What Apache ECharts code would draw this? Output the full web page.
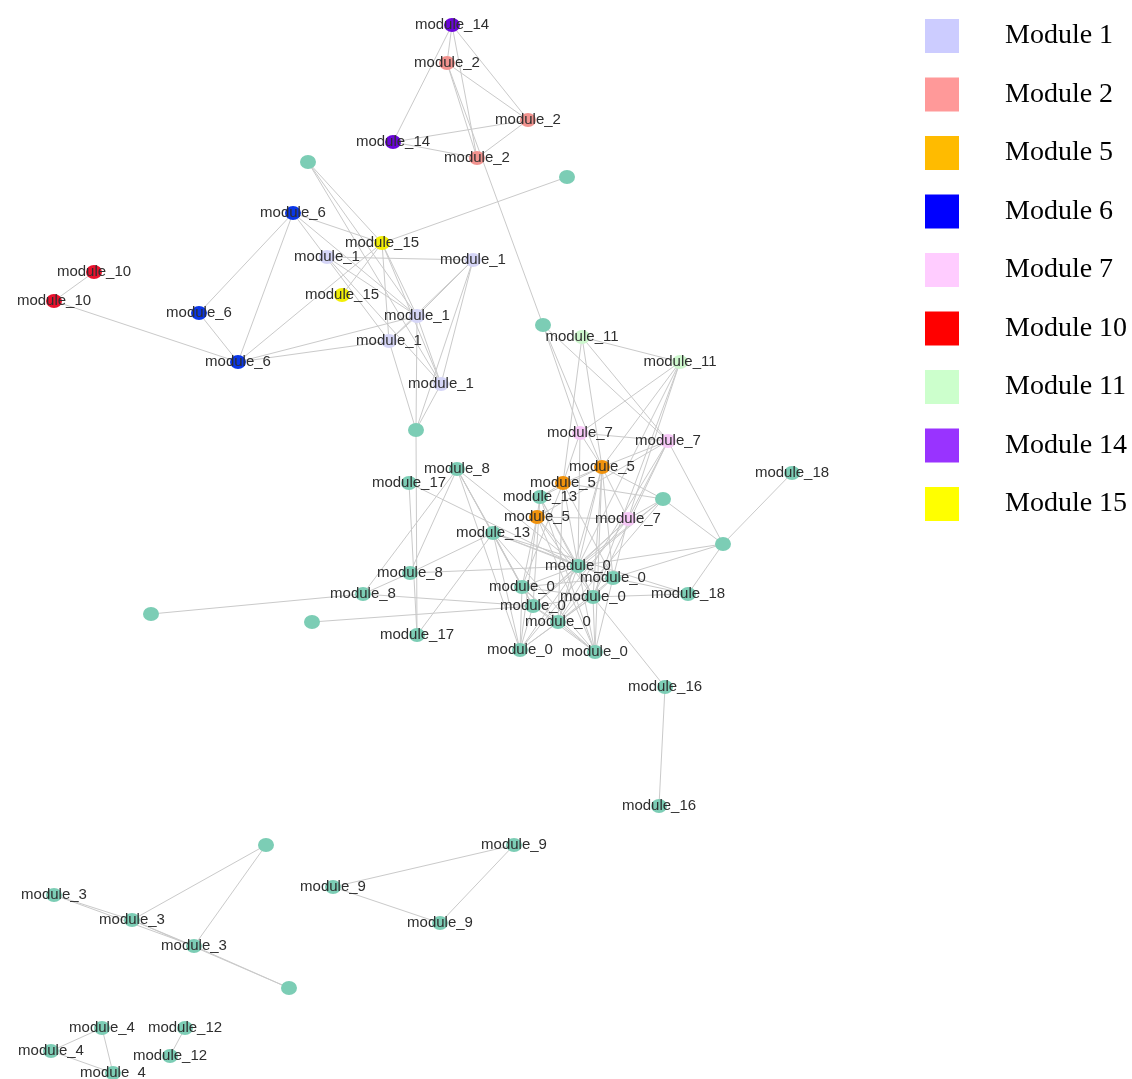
<!DOCTYPE html>
<html>
<head>
<meta charset="utf-8">
<script src="https://cdn.jsdelivr.net/npm/echarts@6/dist/echarts.min.js"></script>
<style>
html,body{margin:0;padding:0;background:#fff;}
#chart{width:1132px;height:1079px;}
</style>
</head>
<body>
<div id="chart"></div>
<script>
// module ids used as graph categories (0 = unclassified teal)
const moduleIds = [0, 1, 2, 5, 6, 7, 10, 11, 14, 15];
const moduleNames = ['Module 0', 'Module 1', 'Module 2', 'Module 5', 'Module 6', 'Module 7', 'Module 10', 'Module 11', 'Module 14', 'Module 15'];
const nodeColors = ['#7ccdb5', '#d5d5f7', '#f2938f', '#f0920c', '#0a36e6', '#f7c8f7', '#e8112d', '#cdf7cd', '#6a05d9', '#f2ee05'];
const legendNames = ['Module 1', 'Module 2', 'Module 5', 'Module 6', 'Module 7', 'Module 10', 'Module 11', 'Module 14', 'Module 15'];
const legendColors = ['#ccccff', '#ff9999', '#ffbb00', '#0000ff', '#ffccff', '#ff0000', '#ccffcc', '#9933ff', '#ffff00'];

// nodes: label text, module id, layout position
const nodeLabels = ['module_14','module_2','module_2','module_14','module_2','','','module_6','module_15','module_1',
  'module_1','module_10','module_10','module_15','module_6','module_1','module_1','module_6','module_1','',
  '','module_11','module_11','module_7','module_7','module_5','module_8','module_17','module_18','module_5',
  'module_13','','module_5','module_7','module_13','','module_0','module_0','module_0','module_0',
  'module_0','module_0','module_0','module_0','module_18','module_8','module_8','','','module_17',
  'module_16','module_16','','module_3','module_3','module_3','','module_9','module_9','module_9',
  'module_4','module_12','module_4','module_12','module_4'];
const nodeModules = [14,2,2,14,2,0,0,6,15,1,
  1,10,10,15,6,1,1,6,1,0,
  0,11,11,7,7,5,0,0,0,5,
  0,0,5,7,0,0,0,0,0,0,
  0,0,0,0,0,0,0,0,0,0,
  0,0,0,0,0,0,0,0,0,0,
  0,0,0,0,0];
const nodeX = [452,447,528,393,477,308,567,293,382,327,
  473,94,54,342,199,417,389,238,441,416,
  543,582,680,580,668,602,457,409,792,563,
  540,663,537,628,493,723,578,613,522,593,
  533,558,520,595,688,410,363,151,312,417,
  665,659,266,54,132,194,289,514,333,440,
  102,185,51,170,113];
const nodeY = [25,63,120,142,158,162,177,213,243,257,
  260,272,301,295,313,316,341,362,384,430,
  325,337,362,433,441,467,469,483,473,483,
  497,499,517,519,533,544,566,578,587,597,
  606,622,650,652,594,573,594,614,622,635,
  687,806,845,895,920,946,988,845,887,923,
  1028,1028,1051,1056,1073];

const edgeList = [
  [0,1],[0,3],[0,4],[0,2],[1,2],[1,4],[1,20],[2,3],[2,4],[3,4],[6,8],
  [11,12],[12,17],[14,7],[14,17],[7,17],[7,8],[7,15],[7,16],[5,8],[5,15],[5,18],
  [9,10],[9,15],[9,18],[8,13],[8,17],[17,15],[17,16],[8,15],[8,18],[8,16],
  [10,15],[10,18],[10,19],[10,16],[15,18],[15,19],[16,19],[18,19],[15,16],
  [19,49],[27,49],
  [20,24],[20,25],[20,23],
  [21,22],[21,25],[21,24],[21,29],
  [22,23],[22,25],[22,33],[22,36],[22,39],
  [23,24],[23,25],[23,29],[23,36],
  [24,25],[24,35],[24,33],[24,39],[24,41],[24,32],
  [25,29],[25,31],[25,33],[25,36],[25,37],[25,39],[25,41],[25,43],[25,30],
  [26,34],[26,38],[26,40],[26,42],[26,45],[26,46],[26,36],
  [27,36],
  [29,30],[29,36],[29,37],[29,38],[29,31],[29,41],
  [30,32],[30,36],[30,40],[30,39],[30,43],
  [31,33],[31,35],[31,36],[31,41],[31,40],
  [32,36],[32,38],[32,39],[32,42],[32,43],[32,33],
  [33,36],[33,37],[33,40],[33,42],
  [34,36],[34,37],[34,38],[34,40],[34,42],[34,43],[34,44],[34,45],[34,49],
  [35,28],[35,36],[35,37],[35,44],
  [36,37],[36,38],[36,39],[36,40],[36,41],[36,42],[36,43],
  [37,38],[37,39],[37,41],[37,43],[37,44],
  [38,39],[38,40],[38,41],[38,42],[38,43],
  [39,40],[39,41],[39,42],[39,43],[39,44],[39,50],
  [40,41],[40,42],[40,43],[41,42],[41,43],
  [45,36],[45,46],[46,40],[47,46],[48,40],
  [50,51],
  [52,54],[52,55],[53,54],[54,55],[53,55],[55,56],[54,56],
  [57,58],[57,59],[58,59],
  [60,62],[60,64],[62,64],[61,63]
];

const categories = moduleNames.map((n, i) => ({ name: n, itemStyle: { color: nodeColors[i] } }));
const nodes = nodeLabels.map((lab, i) => ({
  id: 'n' + i,
  name: lab || ('node' + i),
  value: [nodeX[i], nodeY[i]],
  category: moduleIds.indexOf(nodeModules[i]),
  label: { show: lab !== '' }
}));
const links = edgeList.map(e => ({ source: 'n' + e[0], target: 'n' + e[1] }));

const chart = echarts.init(document.getElementById('chart'));
chart.setOption({
  animation: false,
  backgroundColor: '#ffffff',
  grid: { left: 0, right: 0, top: 0, bottom: 0 },
  xAxis: { type: 'value', min: 0, max: 1132, show: false },
  yAxis: { type: 'value', min: 0, max: 1079, inverse: true, show: false },
  legend: {
    orient: 'vertical',
    left: 925,
    top: 19,
    padding: 0,
    itemWidth: 34,
    itemHeight: 34,
    itemGap: 24.5,
    icon: 'rect',
    selectedMode: false,
    data: legendNames.map((n, i) => ({ name: n, icon: 'rect', itemStyle: { color: legendColors[i], borderWidth: 0 } })),
    textStyle: { fontFamily: 'Liberation Serif', fontSize: 28, color: '#000', padding: [0, 0, 0, 41] }
  },
  series: [{
    type: 'graph',
    coordinateSystem: 'cartesian2d',
    layout: 'none',
    symbol: 'circle',
    symbolSize: [16, 14],
    categories: categories,
    data: nodes,
    links: links,
    z: 2,
    lineStyle: { color: '#cacaca', width: 1, opacity: 1, curveness: 0 },
    itemStyle: { borderWidth: 0 },
    label: {
      position: 'inside',
      color: '#2e2e2e',
      fontSize: 15,
      fontFamily: 'Liberation Sans',
      formatter: p => nodeLabels[p.dataIndex]
    },
    emphasis: { disabled: true },
    silent: true
  }]
});
</script>
</body>
</html>
